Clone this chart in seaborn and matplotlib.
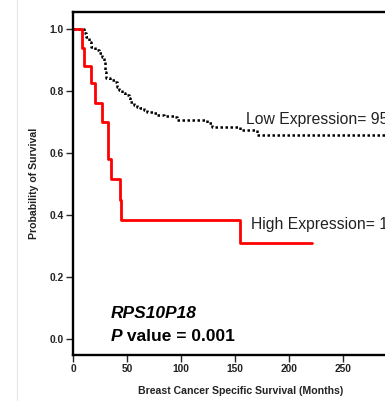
import matplotlib
matplotlib.use("Agg")
import matplotlib.pyplot as plt
from matplotlib.lines import Line2D
import seaborn as sns
import pandas as pd

# Kaplan-Meier curves (months, survival probability)
high_months = [0, 8.3, 10.5, 16.6, 20.6, 26.8, 32.7, 35.5, 43.8, 44.7, 154.3, 221]
high_surv = [1.0, 0.940, 0.882, 0.825, 0.763, 0.701, 0.580, 0.515, 0.448, 0.384, 0.308, 0.308]

low_months = [0, 8.3, 9.8, 12.3, 14.5, 16.6, 20.6, 23.7, 26.8, 29, 29.9, 30.8, 34.5, 39.2,
              40.7, 42.2, 45.4, 48.4, 51.5, 53, 56.1, 59.3, 62.3, 65.4, 68.5, 74.6, 77.8,
              83.9, 93.1, 96.3, 124, 128.7, 155, 170, 320]
low_surv = [1.0, 1.0, 0.987, 0.974, 0.960, 0.944, 0.933, 0.922, 0.911, 0.895, 0.863, 0.842,
            0.836, 0.831, 0.812, 0.804, 0.793, 0.788, 0.777, 0.766, 0.755, 0.750, 0.745,
            0.739, 0.734, 0.728, 0.723, 0.720, 0.716, 0.707, 0.696, 0.685, 0.675, 0.658, 0.658]

x_ticks = [0, 50, 100, 150, 200, 250]
y_ticks = [0.0, 0.2, 0.4, 0.6, 0.8, 1.0]

sns.set_style("ticks")
plt.rcParams['font.family'] = ['Liberation Sans', 'DejaVu Sans']

fig = plt.figure(figsize=(3.85, 4.01), dpi=100)
ax = fig.add_axes([0.1896, 0.1147, 0.8977, 0.8554])

low = pd.DataFrame({'months': low_months, 'surv': low_surv})
high = pd.DataFrame({'months': high_months, 'surv': high_surv})

sns.lineplot(data=low, x='months', y='surv', ax=ax, estimator=None, sort=False,
             drawstyle='steps-post', color='black', linewidth=1.8, linestyle=(0, (1, 1)))
sns.lineplot(data=high, x='months', y='surv', ax=ax, estimator=None, sort=False,
             drawstyle='steps-post', color='#ff0000', linewidth=2.0)

ax.set_xlim(0, 320)
ax.set_ylim(-0.053, 1.056)
ax.set_xticks(x_ticks)
ax.set_yticks(y_ticks)
ax.set_yticklabels(['%.1f' % v for v in y_ticks])
for s in ax.spines.values():
    s.set_linewidth(1.7)
    s.set_color('black')
ax.tick_params(axis='both', length=5, width=1.0, labelsize=7.4, pad=1.5)
for lab in ax.get_xticklabels() + ax.get_yticklabels():
    lab.set_fontweight('bold')
    lab.set_color('#222222')

ax.set_xlabel('Breast Cancer Specific Survival (Months)', fontsize=7.6, fontweight='bold',
              color='#222222')
ax.xaxis.set_label_coords(0.485, -0.09)
ax.set_ylabel('Probability of Survival', fontsize=7.6, fontweight='bold', labelpad=8,
              color='#222222')

ax.text(160.5, 0.694, 'Low Expression= 95', fontsize=11.3, ha='left', va='baseline',
        color='#222222')
ax.text(165, 0.355, 'High Expression= 18', fontsize=11.3, ha='left', va='baseline',
        color='#222222')
ax.text(35, 0.066, 'RPS10P18', fontsize=12.5, fontweight='bold', style='italic',
        va='baseline', color='black')
p_txt = ax.text(35, -0.008, 'P', fontsize=12.5, fontweight='bold', style='italic',
                va='baseline', color='black')
ax.annotate(' value = 0.001', xy=(1, 0), xycoords=p_txt, va='bottom', ha='left',
            fontsize=12.5, fontweight='bold', color='black')

fig.add_artist(Line2D([17 / 385, 17 / 385], [0, 1], color='#e6e6e6', linewidth=0.8))

fig.savefig('out.png', dpi=100)
